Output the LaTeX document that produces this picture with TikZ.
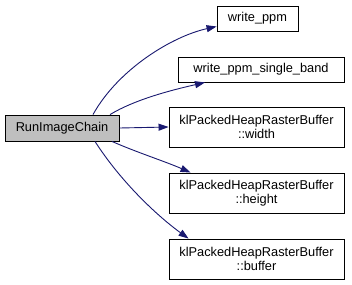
\documentclass[tikz,border=0pt]{standalone}
\usepackage{fontspec}
\setmainfont{Liberation Sans}
\usetikzlibrary{arrows.meta}
\definecolor{edgeblue}{HTML}{191970}
\definecolor{rootfill}{HTML}{BFBFBF}
\begin{document}
\begin{tikzpicture}[x=1pt,y=-1pt,
  fn/.style={draw=black,line width=0.9pt,fill=white,inner sep=0pt,
    font=\fontsize{12.8}{14}\selectfont,align=center},
  root/.style={fn,fill=rootfill},
  call/.style={draw=edgeblue,line width=0.9pt,
    -{Triangle[length=10pt,width=7pt,fill=edgeblue]}}]
\useasboundingbox[fill=white] (0,0) rectangle (352,284);
% caller
\node[root,minimum width=114pt,minimum height=26pt] (run) at (62,128) {RunImageChain};
% callees
\node[fn,minimum width=81pt,minimum height=25pt] (wppm) at (257.5,18.5) {write\_ppm};
\node[fn,minimum width=166pt,minimum height=25pt] (wppmsb) at (261,69.5) {write\_ppm\_single\_band};
\node[fn,minimum width=175pt,minimum height=40pt] (bw) at (256.5,127) {klPackedHeapRasterBuffer\\::width};
\node[fn,minimum width=175pt,minimum height=40pt] (bh) at (256.5,193) {klPackedHeapRasterBuffer\\::height};
\node[fn,minimum width=175pt,minimum height=40pt] (bb) at (256.5,259) {klPackedHeapRasterBuffer\\::buffer};
% calls
\draw[call] ([xshift=31pt]run.north) .. controls +(25,-45) and +(-45,10) .. ([yshift=-8pt]wppm.west);
\draw[call] ([xshift=48pt]run.north) .. controls +(25,-15) and +(-35,8) .. ([xshift=-56pt]wppmsb.south);
\draw[call] (run.east) -- (bw.west);
\draw[call] ([xshift=50pt]run.south) .. controls +(25,11) and +(-25,-11) .. ([xshift=-66pt]bh.north);
\draw[call] ([xshift=33pt]run.south) .. controls +(25,39) and +(-33,-24) .. ([xshift=-68pt]bb.north);
\end{tikzpicture}
\end{document}
